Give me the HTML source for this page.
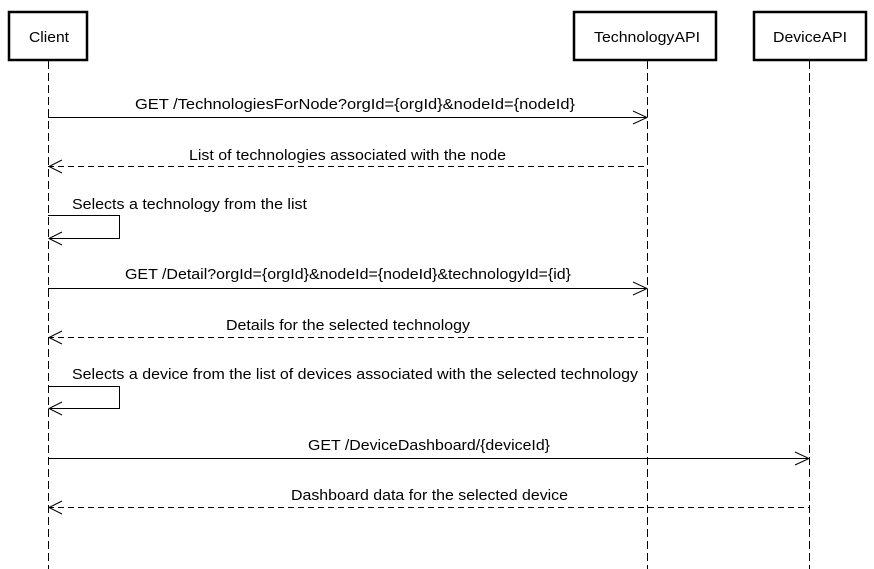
<!DOCTYPE html>
<html><head><style>body{margin:0;background:#fff}svg{display:block}text{font-family:"Liberation Sans",sans-serif;font-size:15px;fill:#000}</style></head><body>
<svg width="874" height="569" viewBox="0 0 874 569">
<g fill="#fff" stroke="#000" stroke-width="2.5">
<rect x="9" y="12" width="78" height="48"/>
<rect x="574" y="12" width="142" height="48"/>
<rect x="754" y="12" width="112" height="48"/>
</g>
<text x="29" y="42" textLength="40" lengthAdjust="spacingAndGlyphs">Client</text>
<text x="594" y="42" textLength="106" lengthAdjust="spacingAndGlyphs">TechnologyAPI</text>
<text x="773" y="42" textLength="74" lengthAdjust="spacingAndGlyphs">DeviceAPI</text>
<g stroke="#000" stroke-width="1" stroke-dasharray="8,4" fill="none">
<line x1="48.5" y1="61" x2="48.5" y2="569"/>
<line x1="647.5" y1="61" x2="647.5" y2="569"/>
<line x1="809.5" y1="61" x2="809.5" y2="569"/>
</g>
<g stroke="#000" stroke-width="1" fill="none">
<line x1="48" y1="117.5" x2="647" y2="117.5"/><polyline points="633,111 647,117.5 633,124"/>
<line x1="48" y1="166.5" x2="647" y2="166.5" stroke-dasharray="6,4"/><polyline points="62,160 49,166.5 62,173"/>
<polyline points="48,215.5 119.5,215.5 119.5,238.5 49,238.5"/><polyline points="62,232 49,238.5 62,245"/>
<line x1="48" y1="288.5" x2="647" y2="288.5"/><polyline points="633,282 647,288.5 633,295"/>
<line x1="48" y1="337.5" x2="647" y2="337.5" stroke-dasharray="6,4"/><polyline points="62,331 49,337.5 62,344"/>
<polyline points="48,386.5 119.5,386.5 119.5,408.5 49,408.5"/><polyline points="62,402 49,408.5 62,415"/>
<line x1="48" y1="458.5" x2="809" y2="458.5"/><polyline points="795,452 809,458.5 795,465"/>
<line x1="48" y1="507.5" x2="809" y2="507.5" stroke-dasharray="6,4"/><polyline points="62,501 49,507.5 62,514"/>
</g>
<text x="135" y="109" textLength="440" lengthAdjust="spacingAndGlyphs">GET /TechnologiesForNode?orgId={orgId}&amp;nodeId={nodeId}</text>
<text x="189" y="160" textLength="317" lengthAdjust="spacingAndGlyphs">List of technologies associated with the node</text>
<text x="72" y="209" textLength="235" lengthAdjust="spacingAndGlyphs">Selects a technology from the list</text>
<text x="125" y="279" textLength="446" lengthAdjust="spacingAndGlyphs">GET /Detail?orgId={orgId}&amp;nodeId={nodeId}&amp;technologyId={id}</text>
<text x="226" y="330" textLength="244" lengthAdjust="spacingAndGlyphs">Details for the selected technology</text>
<text x="72" y="379" textLength="566" lengthAdjust="spacingAndGlyphs">Selects a device from the list of devices associated with the selected technology</text>
<text x="308" y="450" textLength="242" lengthAdjust="spacingAndGlyphs">GET /DeviceDashboard/{deviceId}</text>
<text x="291" y="500" textLength="277" lengthAdjust="spacingAndGlyphs">Dashboard data for the selected device</text>
</svg>
</body></html>
